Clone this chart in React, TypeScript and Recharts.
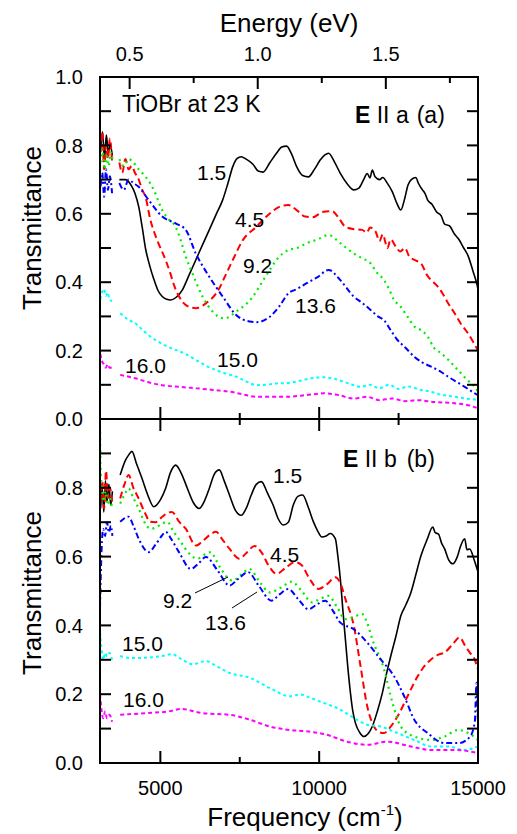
import React from 'react';
import { LineChart, Line, XAxis, YAxis } from 'recharts';

// [frequency (cm-1), transmittance]; null marks the gap in the data
type Pt = [number, number | null];

const X_MIN = 3100;
const X_MAX = 15000;
const EV = 8065.54; // cm-1 per eV

const freqTicks = [5000, 7500, 10000, 12500, 15000];
const freqLabels = [5000, 10000, 15000];
const evTicks = [0.5, 0.75, 1.0, 1.25, 1.5, 1.75];
const evLabels = [0.5, 1.0, 1.5];
const yTicks = [0, 0.1, 0.2, 0.3, 0.4, 0.5, 0.6, 0.7, 0.8, 0.9, 1.0];
const yLabelsTop = [0, 0.2, 0.4, 0.6, 0.8, 1.0];
const yLabelsBottom = [0, 0.2, 0.4, 0.6, 0.8];

// panel (a): E || a
const aBlack: Pt[] = [[3120,0.79],[3180,0.84],[3240,0.76],[3300,0.83],[3360,0.78],[3420,0.80],[3490,0.77],[3600,null],[3710,0.70],[3900,0.70],[4100,0.68],[4200,0.66],[4320,0.62],[4430,0.56],[4530,0.50],[4660,0.45],[4790,0.41],[4930,0.375],[5060,0.358],[5200,0.35],[5320,0.348],[5500,0.356],[5690,0.377],[5900,0.42],[6116,0.465],[6330,0.51],[6540,0.553],[6750,0.597],[6960,0.64],[7130,0.69],[7280,0.738],[7420,0.762],[7545,0.767],[7700,0.76],[7915,0.745],[8080,0.725],[8233,0.722],[8450,0.75],[8656,0.777],[8820,0.795],[8973,0.798],[9130,0.775],[9290,0.738],[9480,0.712],[9661,0.708],[9850,0.73],[10031,0.757],[10180,0.772],[10296,0.777],[10480,0.752],[10666,0.718],[10880,0.688],[11090,0.670],[11250,0.675],[11400,0.70],[11513,0.718],[11600,0.705],[11672,0.728],[11760,0.708],[11900,0.70],[12000,0.706],[12148,0.689],[12300,0.665],[12450,0.63],[12571,0.611],[12680,0.64],[12800,0.685],[12900,0.70],[13048,0.706],[13120,0.69],[13250,0.67],[13330,0.66],[13417,0.64],[13550,0.628],[13700,0.605],[13841,0.594],[13950,0.57],[14100,0.565],[14264,0.54],[14400,0.525],[14550,0.50],[14688,0.477],[14850,0.43],[14950,0.40],[15000,0.38]];
const aRed: Pt[] = [[3120,0.78],[3170,0.84],[3230,0.73],[3290,0.80],[3350,0.76],[3410,0.82],[3480,0.75],[3600,null],[3710,0.75],[3800,0.72],[3900,0.76],[4000,0.73],[4100,0.74],[4200,0.72],[4320,0.70],[4430,0.67],[4530,0.65],[4687,0.582],[4900,0.523],[5164,0.465],[5300,0.43],[5428,0.392],[5693,0.343],[5900,0.328],[6116,0.324],[6433,0.338],[6856,0.382],[7050,0.42],[7280,0.465],[7597,0.523],[8021,0.562],[8338,0.592],[8761,0.621],[9026,0.626],[9300,0.61],[9555,0.592],[9800,0.59],[10100,0.605],[10402,0.608],[10600,0.59],[10825,0.562],[11100,0.555],[11354,0.553],[11500,0.545],[11600,0.56],[11777,0.548],[11900,0.52],[12000,0.54],[12150,0.50],[12250,0.525],[12412,0.504],[12550,0.49],[12700,0.50],[12835,0.475],[13000,0.465],[13206,0.455],[13400,0.42],[13600,0.40],[13735,0.387],[13900,0.365],[14050,0.34],[14264,0.309],[14450,0.28],[14688,0.25],[14850,0.225],[15000,0.20]];
const aGreen: Pt[] = [[3120,0.75],[3180,0.79],[3240,0.73],[3300,0.77],[3370,0.74],[3440,0.78],[3490,0.76],[3600,null],[3710,0.76],[3850,0.74],[4000,0.76],[4150,0.75],[4317,0.73],[4530,0.709],[4793,0.670],[5058,0.611],[5250,0.585],[5481,0.562],[5650,0.52],[5799,0.475],[6011,0.426],[6328,0.358],[6645,0.314],[7016,0.294],[7386,0.314],[7915,0.358],[8200,0.40],[8444,0.436],[8700,0.47],[9026,0.494],[9300,0.50],[9608,0.514],[9950,0.525],[10296,0.538],[10666,0.514],[11090,0.484],[11350,0.47],[11619,0.455],[11800,0.43],[12042,0.406],[12200,0.38],[12359,0.348],[12550,0.33],[12782,0.299],[13000,0.27],[13200,0.26],[13417,0.241],[13600,0.21],[13841,0.192],[14100,0.17],[14370,0.143],[14650,0.115],[14899,0.094],[15000,0.08]];
const aBlue: Pt[] = [[3120,0.68],[3170,0.72],[3230,0.65],[3290,0.73],[3350,0.67],[3410,0.71],[3480,0.66],[3600,null],[3710,0.69],[3850,0.67],[4000,0.70],[4150,0.69],[4317,0.679],[4634,0.640],[5058,0.592],[5481,0.572],[5799,0.553],[6116,0.484],[6540,0.416],[6963,0.358],[7386,0.304],[7809,0.285],[8021,0.283],[8444,0.299],[8750,0.33],[9026,0.367],[9300,0.38],[9608,0.397],[9950,0.415],[10296,0.436],[10666,0.406],[11090,0.358],[11350,0.34],[11619,0.319],[11850,0.30],[12042,0.289],[12250,0.26],[12465,0.231],[12700,0.21],[12994,0.182],[13250,0.165],[13523,0.153],[13800,0.14],[14053,0.124],[14300,0.11],[14582,0.094],[14899,0.075],[15000,0.07]];
const aCyan: Pt[] = [[3110,0.35],[3160,0.37],[3220,0.38],[3280,0.36],[3340,0.37],[3400,0.35],[3480,0.345],[3600,null],[3735,0.309],[4000,0.29],[4211,0.280],[4500,0.255],[4846,0.231],[5150,0.215],[5481,0.202],[5800,0.19],[6116,0.173],[6450,0.155],[6751,0.143],[7050,0.133],[7386,0.124],[7700,0.11],[8021,0.099],[8300,0.10],[8656,0.104],[9000,0.105],[9400,0.112],[9800,0.12],[10137,0.122],[10450,0.118],[10772,0.109],[11050,0.10],[11301,0.094],[11600,0.10],[11900,0.09],[12200,0.10],[12500,0.088],[12800,0.095],[13206,0.085],[13500,0.08],[13800,0.072],[14264,0.065],[14600,0.06],[15000,0.056]];
const aMagenta: Pt[] = [[3110,0.19],[3160,0.17],[3220,0.16],[3280,0.15],[3340,0.16],[3400,0.15],[3480,0.15],[3600,null],[3735,0.129],[4211,0.119],[4600,0.108],[5058,0.099],[5600,0.094],[6116,0.090],[6650,0.085],[7175,0.080],[7600,0.072],[8021,0.065],[8500,0.065],[8973,0.065],[9608,0.070],[10137,0.075],[10600,0.07],[11090,0.060],[11500,0.065],[11900,0.055],[12300,0.06],[12700,0.052],[13100,0.055],[13600,0.05],[14264,0.046],[14700,0.04],[15000,0.031]];

// panel (b): E || b
const bBlack: Pt[] = [[3120,0.74],[3170,0.80],[3220,0.73],[3270,0.82],[3320,0.76],[3380,0.81],[3440,0.75],[3490,0.79],[3600,null],[3735,0.837],[3900,0.88],[4000,0.895],[4105,0.906],[4250,0.87],[4423,0.827],[4600,0.78],[4793,0.745],[5000,0.765],[5164,0.798],[5320,0.845],[5481,0.866],[5670,0.84],[5852,0.798],[6050,0.755],[6222,0.740],[6380,0.76],[6540,0.798],[6700,0.84],[6856,0.852],[7010,0.82],[7175,0.779],[7360,0.735],[7545,0.720],[7700,0.74],[7862,0.779],[8020,0.81],[8180,0.818],[8370,0.785],[8550,0.750],[8710,0.71],[8867,0.692],[9030,0.70],[9185,0.750],[9330,0.775],[9481,0.779],[9650,0.745],[9820,0.701],[9950,0.675],[10084,0.657],[10220,0.66],[10349,0.667],[10508,0.652],[10590,0.60],[10666,0.535],[10750,0.44],[10825,0.360],[10900,0.28],[10984,0.204],[11060,0.15],[11142,0.116],[11280,0.088],[11407,0.077],[11540,0.085],[11672,0.106],[11830,0.15],[11990,0.204],[12120,0.26],[12254,0.311],[12420,0.37],[12571,0.428],[12730,0.46],[12889,0.496],[13050,0.55],[13206,0.603],[13400,0.65],[13576,0.686],[13650,0.67],[13760,0.665],[13850,0.64],[13947,0.623],[14080,0.59],[14210,0.579],[14350,0.60],[14450,0.63],[14582,0.652],[14650,0.62],[14741,0.622],[14880,0.59],[15000,0.555]];
const bRed: Pt[] = [[3120,0.76],[3170,0.82],[3230,0.74],[3290,0.85],[3350,0.77],[3410,0.80],[3480,0.76],[3600,null],[3735,0.769],[3870,0.81],[4000,0.837],[4150,0.80],[4317,0.769],[4500,0.73],[4687,0.701],[4850,0.70],[5050,0.715],[5250,0.728],[5364,0.730],[5600,0.70],[5799,0.681],[6116,0.632],[6330,0.645],[6540,0.662],[6751,0.672],[6950,0.65],[7175,0.623],[7492,0.594],[7700,0.61],[7968,0.631],[8200,0.61],[8400,0.575],[8656,0.550],[8950,0.568],[9238,0.584],[9450,0.575],[9700,0.535],[9979,0.506],[10250,0.52],[10508,0.540],[10680,0.52],[10825,0.477],[11090,0.399],[11301,0.282],[11513,0.165],[11725,0.106],[11880,0.09],[12042,0.087],[12200,0.10],[12465,0.135],[12782,0.194],[13100,0.252],[13300,0.28],[13523,0.301],[13750,0.315],[13947,0.321],[14200,0.345],[14423,0.365],[14600,0.34],[14741,0.321],[14900,0.30],[15000,0.272]];
const bGreen: Pt[] = [[3100,0.98],[3120,0.85],[3160,0.80],[3220,0.76],[3280,0.79],[3340,0.75],[3410,0.77],[3480,0.74],[3600,null],[3735,0.754],[3870,0.78],[4000,0.798],[4150,0.77],[4317,0.740],[4500,0.70],[4687,0.681],[4870,0.685],[5058,0.696],[5216,0.701],[5400,0.675],[5640,0.643],[5900,0.61],[6169,0.594],[6380,0.605],[6593,0.613],[6750,0.59],[6910,0.564],[7280,0.530],[7550,0.548],[7809,0.564],[8100,0.53],[8444,0.496],[8800,0.51],[9132,0.527],[9450,0.50],[9767,0.467],[10050,0.478],[10296,0.486],[10550,0.455],[10825,0.418],[11100,0.425],[11354,0.433],[11500,0.41],[11672,0.360],[12042,0.272],[12307,0.175],[12571,0.106],[12994,0.077],[13523,0.067],[13947,0.077],[14370,0.096],[14700,0.087],[15000,0.067]];
const bBlue: Pt[] = [[3100,0.45],[3150,0.62],[3200,0.68],[3260,0.66],[3320,0.70],[3380,0.67],[3440,0.69],[3490,0.66],[3600,null],[3735,0.701],[4000,0.716],[4150,0.69],[4317,0.652],[4634,0.613],[4850,0.635],[5058,0.662],[5164,0.672],[5350,0.65],[5587,0.613],[5958,0.564],[6200,0.58],[6433,0.599],[6800,0.56],[7175,0.516],[7450,0.535],[7757,0.555],[8100,0.515],[8497,0.472],[8750,0.49],[9026,0.506],[9350,0.475],[9661,0.447],[9950,0.462],[10190,0.472],[10450,0.44],[10666,0.408],[11090,0.389],[11513,0.350],[11936,0.301],[12359,0.252],[12677,0.194],[12994,0.126],[13417,0.087],[13947,0.058],[14400,0.058],[14750,0.077],[14900,0.12],[14953,0.233],[14980,0.16],[15000,0.12]];
const bCyan: Pt[] = [[3100,0.38],[3140,0.34],[3200,0.30],[3260,0.32],[3320,0.31],[3400,0.32],[3480,0.30],[3600,null],[3735,0.311],[4100,0.305],[4530,0.306],[5058,0.311],[5364,0.316],[5700,0.30],[6011,0.287],[6433,0.296],[6800,0.28],[7175,0.262],[7809,0.248],[8444,0.218],[9079,0.194],[9397,0.199],[9700,0.19],[10137,0.175],[10666,0.155],[11090,0.131],[11513,0.111],[11936,0.106],[12465,0.087],[12994,0.067],[13523,0.048],[14053,0.048],[14582,0.038],[15000,0.048]];
const bMagenta: Pt[] = [[3100,0.20],[3140,0.16],[3200,0.13],[3260,0.15],[3320,0.13],[3400,0.14],[3480,0.12],[3600,null],[3735,0.140],[4530,0.145],[5269,0.150],[5640,0.157],[6328,0.145],[7175,0.140],[7809,0.126],[8444,0.106],[9079,0.096],[9608,0.092],[10243,0.082],[10878,0.062],[11513,0.053],[12148,0.062],[12888,0.048],[13523,0.038],[14264,0.038],[15000,0.029]];

const FONT = "'Liberation Sans', Arial, Helvetica, sans-serif";

const styles = [
  { key: 'black', color: '#000000', dash: undefined, width: 1.6 },
  { key: 'red', color: '#ff0000', dash: '7 4', width: 2 },
  { key: 'green', color: '#00ee00', dash: '2 4', width: 2.2 },
  { key: 'blue', color: '#0000ff', dash: '6 3 2 3', width: 2 },
  { key: 'cyan', color: '#00ffff', dash: '3 3', width: 2 },
  { key: 'magenta', color: '#ff00ff', dash: '4 3', width: 2 },
];

const rows = (pts: Pt[]) => pts.map(([f, t]) => ({ f, t }));

const has = (list: number[], v: number) => list.some((l) => Math.abs(l - v) < 1e-6);

// tick marks point into the plot (small filled bars); labels sit outside
const bar = (x: number, y: number, w: number, h: number) => (
  <rect x={Math.min(x, x + w)} y={Math.min(y, y + h)} width={Math.abs(w)} height={Math.abs(h)} fill="#000" />
);

const yTickLeft = (labels: number[]) => (p: any) => {
  const x = Number(p.x);
  const y = Number(p.y);
  return (
    <g>
      {bar(x, y - 1, 11, 2)}
      {has(labels, p.payload.value) && (
        <text x={x - 17} y={y} dy="0.36em" textAnchor="end" fontSize={20} fontFamily={FONT} fill="#000">
          {p.payload.value.toFixed(1)}
        </text>
      )}
    </g>
  );
};

const yTickRight = (p: any) => <g>{bar(Number(p.x), Number(p.y) - 1, -11, 2)}</g>;

const xTickUp = (labelled: boolean) => (p: any) => {
  const x = Number(p.x);
  const y = Number(p.y);
  const major = has(freqLabels, p.payload.value);
  return (
    <g>
      {bar(x - 1, y, 2, major ? -12 : -6)}
      {labelled && major && (
        <text x={x} y={y + 32} textAnchor="middle" fontSize={20} fontFamily={FONT} fill="#000">
          {p.payload.value}
        </text>
      )}
    </g>
  );
};

const xTickDown = (p: any) => {
  const major = has(freqLabels, p.payload.value);
  return <g>{bar(Number(p.x) - 1, Number(p.y), 2, major ? 12 : 6)}</g>;
};

const evTick = (p: any) => {
  const x = Number(p.x);
  const y = Number(p.y);
  const ev = p.payload.value / EV;
  const major = has(evLabels, ev);
  return (
    <g>
      {bar(x - 1, y, 2, major ? 12 : 6)}
      {major && (
        <text x={x} y={y - 16} textAnchor="middle" fontSize={20} fontFamily={FONT} fill="#000">
          {ev.toFixed(1)}
        </text>
      )}
    </g>
  );
};

const series = (list: Pt[][]) =>
  list.map((pts, i) => (
    <Line
      key={styles[i].key}
      xAxisId="f"
      yAxisId="l"
      data={rows(pts)}
      dataKey="t"
      type="monotone"
      stroke={styles[i].color}
      strokeWidth={styles[i].width}
      strokeDasharray={styles[i].dash}
      dot={false}
      connectNulls={false}
      isAnimationActive={false}
    />
  ));

const axisLine = { stroke: '#000', strokeWidth: 2 };

const frameBox = (top: number, height: number) => ({
  position: 'absolute' as const,
  left: 99,
  top,
  width: 380,
  height,
  boxSizing: 'border-box' as const,
  border: '2px solid #000',
  pointerEvents: 'none' as const,
});

export default function App() {
  const txt = { fontFamily: FONT, fill: '#000' };
  return (
    <div style={{ position: 'absolute', left: 0, top: 0, width: 517, height: 834, background: '#fff' }}>
      {/* panel (a) */}
      <div style={{ position: 'absolute', left: 0, top: 0 }}>
        <LineChart width={517} height={440} margin={{ top: 27, right: 38, bottom: 20, left: 0 }}>
          <XAxis xAxisId="f" type="number" dataKey="f" domain={[X_MIN, X_MAX]} allowDataOverflow ticks={freqTicks} interval={0}
            height={1} tickSize={0} tickMargin={0} tickLine={false} axisLine={axisLine} tick={xTickUp(false)} />
          <XAxis xAxisId="ev" orientation="top" type="number" dataKey="f" domain={[X_MIN, X_MAX]} allowDataOverflow
            ticks={evTicks.map((e) => e * EV)} interval={0} height={50} tickSize={0} tickMargin={0} tickLine={false}
            axisLine={axisLine} tick={evTick} />
          <YAxis yAxisId="l" type="number" domain={[0, 1]} allowDataOverflow ticks={yTicks} interval={0} width={100}
            tickSize={0} tickMargin={0} tickLine={false} axisLine={axisLine} tick={yTickLeft(yLabelsTop)} />
          <YAxis yAxisId="r" orientation="right" type="number" domain={[0, 1]} allowDataOverflow ticks={yTicks} interval={0} width={1}
            tickSize={0} tickMargin={0} tickLine={false} axisLine={axisLine} tick={yTickRight} />
          {series([aBlack, aRed, aGreen, aBlue, aCyan, aMagenta])}
        </LineChart>
      </div>
      {/* panel (b) */}
      <div style={{ position: 'absolute', left: 0, top: 400 }}>
        <LineChart width={517} height={434} margin={{ top: 18, right: 38, bottom: 1, left: 0 }}>
          <XAxis xAxisId="f" type="number" dataKey="f" domain={[X_MIN, X_MAX]} allowDataOverflow ticks={freqTicks} interval={0}
            height={70} tickSize={0} tickMargin={0} tickLine={false} axisLine={axisLine} tick={xTickUp(true)} />
          <XAxis xAxisId="t" orientation="top" type="number" dataKey="f" domain={[X_MIN, X_MAX]} allowDataOverflow ticks={freqTicks}
            interval={0} height={1} tickSize={0} tickMargin={0} tickLine={false} axisLine={axisLine} tick={xTickDown} />
          <YAxis yAxisId="l" type="number" domain={[0, 1]} allowDataOverflow ticks={yTicks} interval={0} width={100}
            tickSize={0} tickMargin={0} tickLine={false} axisLine={axisLine} tick={yTickLeft(yLabelsBottom)} />
          <YAxis yAxisId="r" orientation="right" type="number" domain={[0, 1]} allowDataOverflow ticks={yTicks} interval={0} width={1}
            tickSize={0} tickMargin={0} tickLine={false} axisLine={axisLine} tick={yTickRight} />
          {series([bBlack, bRed, bGreen, bBlue, bCyan, bMagenta])}
        </LineChart>
      </div>
      <div style={frameBox(76, 344)} />
      <div style={frameBox(418, 346)} />
      <svg width={517} height={834} style={{ position: 'absolute', left: 0, top: 0, pointerEvents: 'none' }}>
        <g {...txt}>
          <text x={289} y={32} textAnchor="middle" fontSize={26}>Energy (eV)</text>
          <text x={305} y={826} textAnchor="middle" fontSize={26}>
            Frequency (cm<tspan dy={-11} fontSize={15}>-1</tspan><tspan dy={11}>)</tspan>
          </text>
          <text transform="translate(41,228) rotate(-90)" textAnchor="middle" fontSize={26}>Transmittance</text>
          <text transform="translate(41,593) rotate(-90)" textAnchor="middle" fontSize={26}>Transmittance</text>

          <text x={122} y={112} fontSize={23}>TiOBr at 23 K</text>
          <text x={355} y={123} fontSize={23}>
            <tspan fontWeight="bold">E</tspan> II a<tspan dx={8}>(a)</tspan>
          </text>
          <text x={343} y={467} fontSize={23}>
            <tspan fontWeight="bold">E</tspan> II b<tspan dx={10}>(b)</tspan>
          </text>

          <text x={197} y={180} fontSize={21}>1.5</text>
          <text x={235} y={227} fontSize={21}>4.5</text>
          <text x={243} y={273} fontSize={21}>9.2</text>
          <text x={295} y={313} fontSize={21}>13.6</text>
          <text x={217} y={367} fontSize={21}>15.0</text>
          <text x={125} y={373} fontSize={21}>16.0</text>

          <text x={273} y={483} fontSize={21}>1.5</text>
          <text x={270} y={562} fontSize={21}>4.5</text>
          <text x={163} y={608} fontSize={21}>9.2</text>
          <text x={205} y={630} fontSize={21}>13.6</text>
          <text x={122} y={651} fontSize={21}>15.0</text>
          <text x={123} y={707} fontSize={21}>16.0</text>
        </g>
        <line x1={195} y1={593} x2={228} y2={577} stroke="#000" strokeWidth={1} />
        <line x1={232} y1={608} x2={257} y2={592} stroke="#000" strokeWidth={1} />
      </svg>
    </div>
  );
}
